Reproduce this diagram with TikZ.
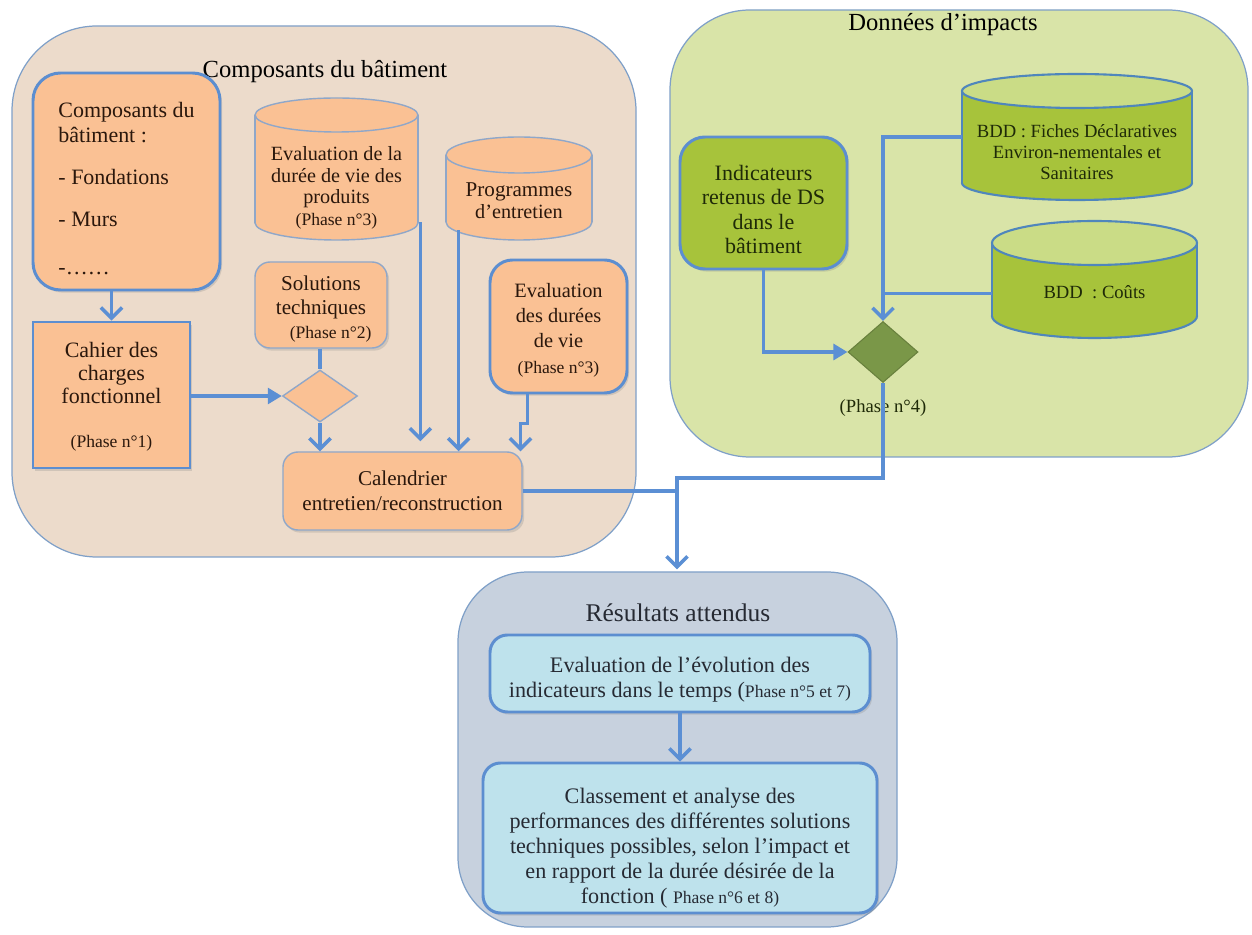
\documentclass[tikz,border=0pt]{standalone}
\usepackage{fontspec}
\setmainfont{Liberation Serif}
\usetikzlibrary{shapes.geometric,arrows.meta,fit,calc,shadows}

\definecolor{wirec}{HTML}{5B8FD4}
\definecolor{panelline}{HTML}{7FA0C8}
\definecolor{tanbg}{HTML}{ECDBCB}
\definecolor{greenbg}{HTML}{D9E4A8}
\definecolor{bluebg}{HTML}{C7D1DE}
\definecolor{orangefill}{HTML}{FAC194}
\definecolor{thinline}{HTML}{8FA7C9}
\definecolor{thickline}{HTML}{5C8ED0}
\definecolor{greenfill}{HTML}{A7C33B}
\definecolor{greentop}{HTML}{CADC86}
\definecolor{greenline}{HTML}{4F86BC}
\definecolor{darkgreen}{HTML}{7A9748}
\definecolor{skyfill}{HTML}{BEE2EC}
\definecolor{ink}{HTML}{2A170C}
\definecolor{greenink}{HTML}{1F2A08}
\definecolor{blueink}{HTML}{262A33}

% font helpers
\newcommand\bodyfont{\fontsize{12.5}{14}\selectfont}
\newcommand\phasefont{\fontsize{10}{12}\selectfont}
% taller first line, pushes a centred text block downwards
\newcommand\lift[1]{\rule{0pt}{#1}}

% cylinder: name, x1, y1, x2, y2, ry, style prefix, text shift, text
\newcommand\drum[9]{%
  \pgfmathsetmacro\dcx{(#2+#4)/2}%
  \pgfmathsetmacro\drx{(#4-#2)/2}%
  \draw[#7 body] (\dcx,#5-#6) ellipse [x radius=\drx, y radius=#6];
  \fill[#7 body, draw=none] (#2,#3+#6) rectangle (#4,#5-#6);
  \draw[#7 body, fill=none] (#2,#3+#6) -- (#2,#5-#6) (#4,#3+#6) -- (#4,#5-#6);
  \draw[#7 body, #7 top] (\dcx,#3+#6) ellipse [x radius=\drx, y radius=#6];
  \node[inner sep=0, fit={(#2,#3) (#4,#5)}] (#1) {};
  \node[#7 text] (#1-t) at (\dcx,{(#3+#5)/2+#8}) {#9};
}

\begin{document}
\begin{tikzpicture}[x=0.02cm, y=-0.02cm,
  boxat/.style n args={4}{at={({(#1+#3)/2},{(#2+#4)/2})},
    minimum width={(#3-#1)*0.02cm}, minimum height={(#4-#2)*0.02cm}},
  panel/.style={draw=panelline, line width=0.7pt, inner sep=0},
  shade/.style={drop shadow={opacity=0.25, shadow xshift=1.2pt, shadow yshift=-1.5pt}},
  otext/.style={text=ink, font=\bodyfont, align=center},
  obox thin/.style={otext, shade, fill=orangefill, draw=thinline, line width=0.8pt, inner sep=0},
  obox thick/.style={otext, shade, fill=orangefill, draw=thickline, line width=1.7pt, inner sep=0},
  gbox/.style={shade, fill=greenfill, draw=thickline, line width=1.7pt, inner sep=0,
    text=greenink, font=\bodyfont, align=center},
  bbox/.style={shade, fill=skyfill, draw=thickline, line width=1.7pt, inner sep=0,
    text=blueink, font=\fontsize{12.6}{14.2}\selectfont, align=center, rounded corners=0.35cm},
  or body/.style={fill=orangefill, draw=thinline, line width=0.8pt},
  or top/.style={fill=orangefill},
  or text/.style={otext, font=\fontsize{11.5}{12.2}\selectfont},
  gr body/.style={fill=greenfill, draw=greenline, line width=1.2pt},
  gr top/.style={fill=greentop},
  gr text/.style={text=greenink, align=center, font=\fontsize{10.6}{11.8}\selectfont},
  title/.style={text=black, font=\fontsize{14}{16}\selectfont},
  wire/.style={draw=wirec, line width=2pt},
  arr/.style={wire, -{Straight Barb[length=6pt,width=12pt]}},
  tri/.style={wire, -{Triangle[length=8pt,width=9pt]}},
]
\useasboundingbox (0,0) rectangle (1252,935);

% group panels
\node[panel, fill=tanbg, rounded corners=1.7cm, fit={(12,26) (636,557)}] (left) {};
\node[panel, fill=greenbg, rounded corners=1.6cm, fit={(670,10) (1248,457)}] (right) {};
\node[panel, fill=bluebg, rounded corners=1.4cm, fit={(458,572) (897,927)}] (bottom) {};

\node[title] (lefttitle) at (325,72) {Composants du bâtiment};
\node[title] (righttitle) at (943,25) {Données d’impacts};
\node[title, font=\fontsize{14.5}{16}\selectfont, text=blueink] (bottomtitle) at (678,613) {Résultats attendus};

% building components
\node[obox thick, rounded corners=0.55cm, boxat={33}{73}{220}{290}, align=left] (comp)
  {\lift{16.5pt}Composants du\\bâtiment :\\[10pt]- Fondations\\[10pt]- Murs\\[13pt]-……};
\node[obox thick, rounded corners=0, boxat={33}{322}{190}{468}, font=\fontsize{12.5}{13}\selectfont] (cahier)
  {\lift{11pt}Cahier des\\charges\\fonctionnel\\[12pt]{\phasefont (Phase n°1)}};
\drum{cylA}{255}{98}{418}{240}{17}{or}{19}
  {Evaluation de la\\durée de vie des\\produits\\{\phasefont (Phase n°3)}}
\drum{cylB}{446}{137}{592}{240}{18}{or}{12}
  {\fontsize{12}{14}\selectfont Programmes\\d’entretien}
\node[obox thin, rounded corners=0.3cm, boxat={255}{262}{387}{348}, font=\fontsize{12}{13.6}\selectfont] (sol)
  {\lift{12.8pt}Solutions\\techniques\\{\phasefont\hspace*{11pt}(Phase n°2)}};
\node[obox thick, rounded corners=0.45cm, boxat={490}{260}{627}{393}, font=\fontsize{11.6}{14.4}\selectfont] (evd)
  {\lift{12pt}Evaluation\\des durées\\de vie\\{\phasefont (Phase n°3)}};
\node[diamond, fill=orangefill, draw=thinline, line width=0.8pt,
  minimum width=1.5cm, minimum height=1.04cm, inner sep=0] (d1) at (320,396) {};
\node[obox thin, rounded corners=0.3cm, boxat={283}{452}{522}{530}, font=\fontsize{12}{14}\selectfont] (cal)
  {Calendrier\\entretien/reconstruction};

% impact data
\node[gbox, rounded corners=0.5cm, boxat={680}{137}{847}{269}] (ind)
  {\lift{16pt}Indicateurs\\retenus de DS\\dans le\\bâtiment};
\drum{cylF}{962}{74}{1192}{200}{17}{gr}{15}
  {BDD : Fiches Déclaratives\\Environ-nementales et\\Sanitaires}
\drum{cylC}{992}{221}{1197}{338}{22}{gr}{13}
  {BDD~ : Coûts}
\node[diamond, fill=darkgreen, draw=darkgreen!85!black, line width=0.6pt,
  minimum width=1.4cm, minimum height=1.22cm, inner sep=0] (d2) at (883,352) {};
\node[text=greenink, font=\fontsize{10.6}{12}\selectfont] (ph4) at (883,408) {(Phase n°4)};

% expected results
\node[bbox, boxat={490}{635}{870}{712}] (ev)
  {\lift{15.5pt}Evaluation de l’évolution des\\indicateurs dans le temps ({\phasefont Phase n°5 et 7)}};
\node[bbox, boxat={483}{763}{877}{913}] (cl)
  {\lift{20pt}Classement  et analyse des\\performances des différentes solutions\\techniques possibles, selon l’impact et\\en rapport de la durée désirée de la\\fonction ( {\phasefont Phase n°6 et 8)}};

% connectors, left group
\draw[arr] (cahier.north |- comp.south) -- (cahier.north);
\draw[tri] (d1.west -| cahier.east) -- (d1.west);
\draw[wire] (sol.south -| d1.north) -- (d1.north);
\draw[arr] (d1.south) -- (d1.south |- cal.north);
\coordinate (a1) at ($(cylA.south east)+(2,-18)$);
\coordinate (a2) at ($(cal.north -| a1)+(0,-10)$);
\draw[arr] (a1) -- (a2);
\coordinate (b1) at ($(cylB.south west)+(13,-10)$);
\draw[arr] (b1) -- (b1 |- cal.north);
\coordinate (z1) at ($(evd.south)+(-31,0)$);
\coordinate (z2) at ($(z1)+(0,29)$);
\coordinate (z3) at ($(z2)+(-7,0)$);
\draw[arr] (z1) -- (z2) -- (z3) -- (z3 |- cal.north);

% connectors, right group
\draw[tri] (ind.south) |- (d2.west);
\draw[arr] (cylF.west) -| (d2.north);
\coordinate (c1) at ($(cylC.west)+(0,14)$);
\draw[wire] (c1) -- (c1 -| d2.north);

% merge into results
\coordinate (merge) at (677,478);
\draw[wire] (cal.east) -- (cal.east -| merge);
\draw[arr] (d2.south) |- (merge) -- ($(merge |- bottom.north)+(0,-2)$);
\draw[arr] (ev.south) -- (cl.north);
\end{tikzpicture}
\end{document}
